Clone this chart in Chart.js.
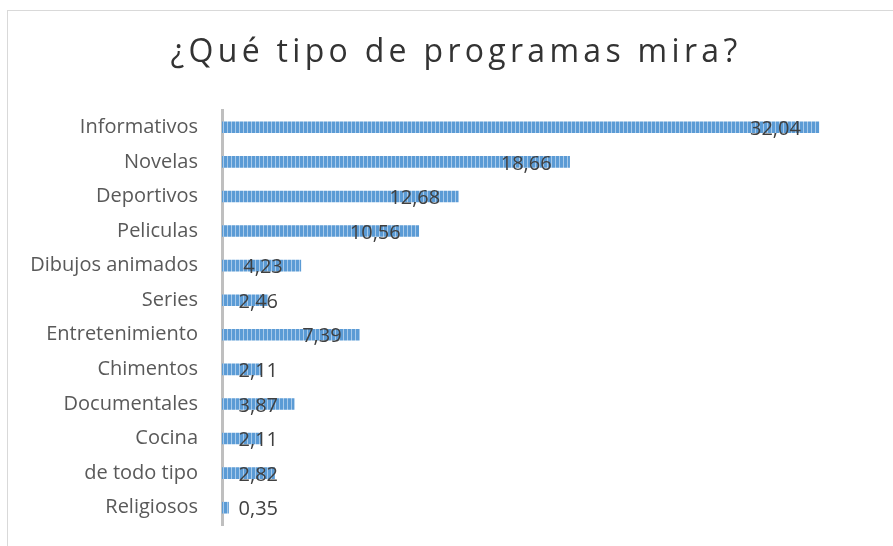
<!DOCTYPE html>
<html>
<head>
<meta charset="utf-8">
<script src="https://cdn.jsdelivr.net/npm/chart.js@4"></script>
<style>
  html, body { margin: 0; padding: 0; background: #fff; overflow: hidden; }
  #wrap { position: relative; width: 893px; height: 546px; }
  #frame { position: absolute; left: 7px; top: 10px; width: 1000px; height: 600px; border: 1px solid #d9d9d9; }
  #programasChart { position: absolute; left: 0; top: 0; }
</style>
</head>
<body>
<div id="wrap">
  <div id="frame"></div>
  <canvas id="programasChart" width="893" height="546"></canvas>
</div>
<script>
const titulo = '¿Qué tipo de programas mira?';
const categorias = ['Informativos', 'Novelas', 'Deportivos', 'Peliculas', 'Dibujos animados', 'Series',
  'Entretenimiento', 'Chimentos', 'Documentales', 'Cocina', 'de todo tipo', 'Religiosos'];
const porcentajes = [32.04, 18.66, 12.68, 10.56, 4.23, 2.46, 7.39, 2.11, 3.87, 2.11, 2.82, 0.35];

// rayado vertical de las barras
function patronBarras() {
  const c = document.createElement('canvas');
  c.width = 4; c.height = 4;
  const g = c.getContext('2d');
  g.fillStyle = '#5b9bd5';
  g.fillRect(0, 0, 3, 4);
  g.fillStyle = '#a8caea';
  g.fillRect(3, 0, 1, 4);
  return g.createPattern(c, 'repeat');
}

const tituloPlugin = {
  id: 'tituloEspaciado',
  beforeDraw(chart) {
    const ctx = chart.ctx;
    ctx.save();
    ctx.font = '32px "Open Sans"';
    ctx.letterSpacing = '4.3px';
    ctx.fillStyle = '#333333';
    ctx.textAlign = 'center';
    ctx.textBaseline = 'middle';
    ctx.fillText(titulo, 456, 53);
    ctx.restore();
  }
};

const etiquetasPlugin = {
  id: 'etiquetasValor',
  afterDatasetsDraw(chart) {
    const ctx = chart.ctx;
    const meta = chart.getDatasetMeta(0);
    ctx.save();
    ctx.font = '20px "Open Sans"';
    ctx.fillStyle = '#404040';
    ctx.textAlign = 'right';
    ctx.textBaseline = 'middle';
    meta.data.forEach((bar, i) => {
      const txt = porcentajes[i].toFixed(2).replace('.', ',');
      const derecha = Math.max(bar.x - 18, chart.chartArea.left + 56);
      ctx.fillText(txt, derecha, bar.y + 2);
    });
    ctx.restore();
  }
};

document.addEventListener('DOMContentLoaded', function() {
  const ctx = document.getElementById('programasChart');
  new Chart(ctx, {
    type: 'bar',
    data: {
      labels: categorias,
      datasets: [{
        data: porcentajes,
        backgroundColor: patronBarras(),
        borderWidth: 0,
        barThickness: 11
      }]
    },
    options: {
      indexAxis: 'y',
      responsive: false,
      animation: false,
      layout: { padding: { top: 110, bottom: 21, right: 19, left: 0 } },
      plugins: {
        legend: { display: false },
        tooltip: { enabled: false }
      },
      scales: {
        x: { display: false, min: 0, max: 35 },
        y: {
          afterFit(scale) {
            scale.width = 222;
            scale.paddingTop = 0;
            scale.paddingBottom = 0;
          },
          grid: { display: false, drawTicks: false },
          border: { display: true, color: '#bfbfbf', width: 3 },
          ticks: {
            color: '#595959',
            padding: 24,
            font: { family: '"Open Sans"', size: 20 }
          }
        }
      }
    },
    plugins: [tituloPlugin, etiquetasPlugin]
  });
});
</script>
</body>
</html>
